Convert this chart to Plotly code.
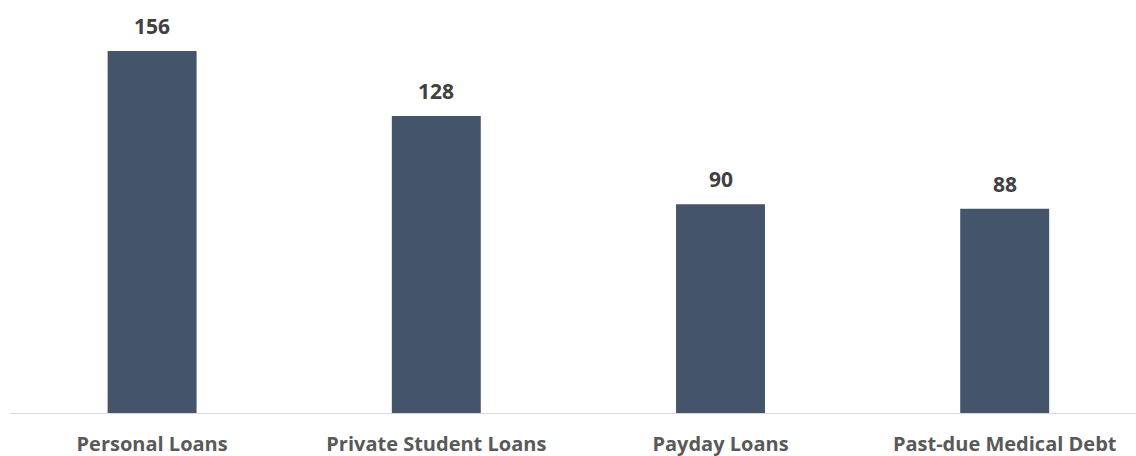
import plotly.graph_objects as go

categories = ["Personal Loans", "Private Student Loans", "Payday Loans", "Past-due Medical Debt"]
values = [156, 128, 90, 88]

fig = go.Figure()
fig.add_trace(go.Bar(
    x=categories, y=values,
    marker=dict(color="#44546A", line=dict(width=0)),
    width=0.313,
    hoverinfo="skip",
))

for c, v in zip(categories, values):
    fig.add_annotation(
        x=c, y=v, text=f"<b>{v}</b>", showarrow=False,
        yanchor="bottom", yshift=9,
        font=dict(family="Open Sans", size=21, color="#404040"),
    )

fig.update_layout(
    width=1136, height=456,
    margin=dict(l=10, r=0, t=0, b=43, autoexpand=False),
    plot_bgcolor="white", paper_bgcolor="white",
    showlegend=False,
    bargap=0.687,
)
fig.update_xaxes(
    type="category",
    range=[-0.5, 3.462],
    showline=True, linecolor="#D9D9D9", linewidth=1,
    showgrid=False, ticks="",
    automargin=False,
    tickfont=dict(family="Open Sans", size=20, color="#595959", weight="bold"),
    ticklabelstandoff=13,
)
fig.update_yaxes(
    range=[0, 178],
    visible=False, showgrid=False, automargin=False,
)

fig.write_html("out.html")
